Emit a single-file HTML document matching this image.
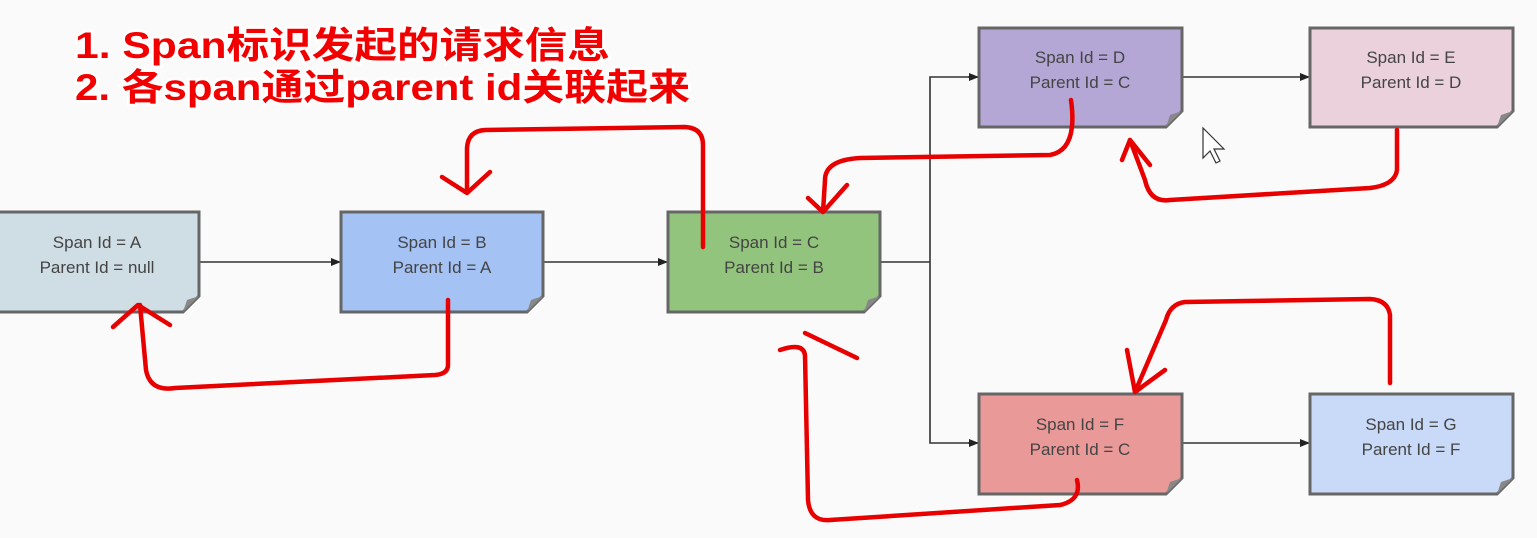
<!DOCTYPE html>
<html><head><meta charset="utf-8"><style>
html,body{margin:0;padding:0;width:1537px;height:538px;background:#fafafa;overflow:hidden}
svg{display:block}
.t{font-family:"Liberation Sans",sans-serif;font-size:17px;fill:#444;text-anchor:middle}
.r{fill:none;stroke:#e80000;stroke-width:4.5;stroke-linecap:round;stroke-linejoin:round}
.h{font-family:"Liberation Sans","Noto Sans CJK SC",sans-serif;font-size:37px;font-weight:bold;fill:#f20000;stroke:#fff;stroke-width:5;paint-order:stroke}
</style></head><body>
<svg width="1537" height="538" viewBox="0 0 1537 538">
<defs>
<marker id="a" markerWidth="10" markerHeight="10" refX="9" refY="5" orient="auto" markerUnits="userSpaceOnUse"><path d="M0,1 L10,5 L0,9 Z" fill="#222"/></marker>
</defs>
<g stroke="#333" stroke-width="1.6" fill="none">
<line x1="199" y1="262" x2="340" y2="262" marker-end="url(#a)"/>
<line x1="543" y1="262" x2="667" y2="262" marker-end="url(#a)"/>
<polyline points="880,262 930,262"/>
<polyline points="978,77 930,77 930,443 978,443" />
<line x1="968" y1="77" x2="978" y2="77" marker-end="url(#a)"/>
<line x1="968" y1="443" x2="978" y2="443" marker-end="url(#a)"/>
<line x1="1182" y1="77" x2="1309" y2="77" marker-end="url(#a)"/>
<line x1="1182" y1="443" x2="1309" y2="443" marker-end="url(#a)"/>
</g>
<g stroke="#666" stroke-width="3">
<path d="M-5,212 H199 V296 L183,312 H-5 Z" fill="#cfdde4"/>
<path d="M341,212 H543 V296 L527,312 H341 Z" fill="#a4c2f4"/>
<path d="M668,212 H880 V296 L864,312 H668 Z" fill="#93c47d"/>
<path d="M979,28 H1182 V111 L1166,127 H979 Z" fill="#b4a7d6"/>
<path d="M1310,28 H1513 V111 L1497,127 H1310 Z" fill="#ead1dc"/>
<path d="M979,394 H1182 V478 L1166,494 H979 Z" fill="#ea9999"/>
<path d="M1310,394 H1513 V478 L1497,494 H1310 Z" fill="#c9daf8"/>
</g>
<g fill="#888">
<path d="M183,312 L199,296 L187,300 Z"/><path d="M527,312 L543,296 L531,300 Z"/><path d="M864,312 L880,296 L868,300 Z"/>
<path d="M1166,127 L1182,111 L1170,115 Z"/><path d="M1497,127 L1513,111 L1501,115 Z"/>
<path d="M1166,494 L1182,478 L1170,482 Z"/><path d="M1497,494 L1513,478 L1501,482 Z"/>
</g>
<text class="t" x="97" y="248">Span Id = A</text><text class="t" x="97" y="273">Parent Id = null</text>
<text class="t" x="442" y="248">Span Id = B</text><text class="t" x="442" y="273">Parent Id = A</text>
<text class="t" x="774" y="248">Span Id = C</text><text class="t" x="774" y="273">Parent Id = B</text>
<text class="t" x="1080" y="63">Span Id = D</text><text class="t" x="1080" y="88">Parent Id = C</text>
<text class="t" x="1411" y="63">Span Id = E</text><text class="t" x="1411" y="88">Parent Id = D</text>
<text class="t" x="1080" y="430">Span Id = F</text><text class="t" x="1080" y="455">Parent Id = C</text>
<text class="t" x="1411" y="430">Span Id = G</text><text class="t" x="1411" y="455">Parent Id = F</text>
<text class="h" x="75" y="58" textLength="535" lengthAdjust="spacingAndGlyphs">1. Span标识发起的请求信息</text>
<text class="h" x="75" y="100" textLength="615" lengthAdjust="spacingAndGlyphs">2. 各span通过parent id关联起来</text>
<g class="r">
<path d="M448,300 V365 Q448,374 435,375 L175,388 Q150,392 146,370 L140,305"/>
<path d="M113,327 L138,305 L170,325"/>
<path d="M703,247 V145 Q703,128 685,127 L485,130 Q468,131 467,148 L467,192"/>
<path d="M442,177 L467,193 L490,172"/>
<path d="M1071,100 Q1078,150 1050,155 L860,158 Q825,160 825,180 L823,212"/>
<path d="M808,198 L823,212 L847,185"/>
<path d="M1397,130 V170 Q1395,185 1370,188 L1170,200 Q1150,203 1145,180 L1130,140"/>
<path d="M1130,140 L1122,160 M1130,140 L1150,165"/>
<path d="M1390,383 V315 Q1388,300 1370,299 L1185,302 Q1170,304 1166,320 L1135,392"/>
<path d="M1127,350 L1135,392 L1165,370"/>
<path d="M1077,480 Q1082,500 1060,505 L830,520 Q810,522 808,500 L805,355 Q803,342 780,350"/>
<path d="M805,333 L857,358"/>
</g>
<path d="M1203,128 L1203,158 L1210,151 L1216,163 L1220,161 L1214,149 L1224,149 Z" fill="#fff" stroke="#333" stroke-width="1.2"/>
</svg>
</body></html>
